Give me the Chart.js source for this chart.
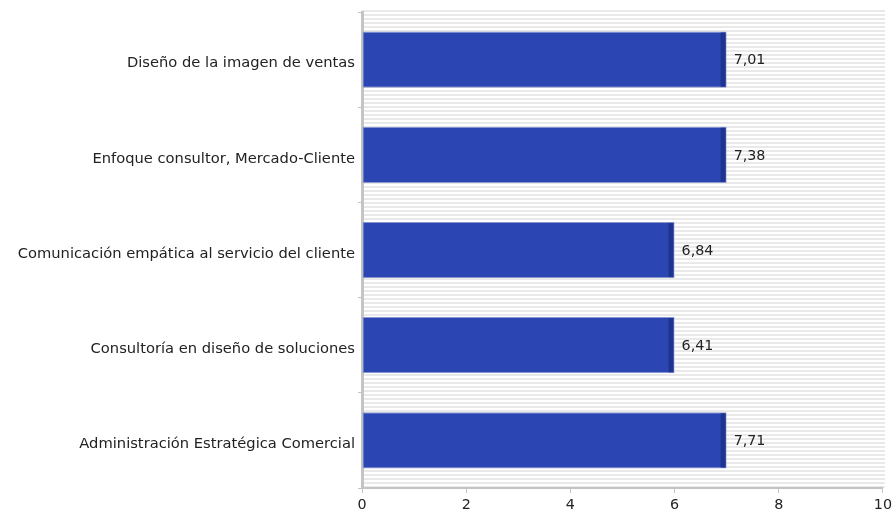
<!DOCTYPE html>
<html>
<head>
<meta charset="utf-8">
<script src="https://cdn.jsdelivr.net/npm/chart.js@4"></script>
<style>
html,body{margin:0;padding:0;background:#fff;}
#wrap{width:896px;height:513px;}
</style>
</head>
<body>
<div id="wrap"><canvas id="c" width="896" height="513"></canvas></div>
<script>
const categories = [
  "Diseño de la imagen de ventas",
  "Enfoque consultor, Mercado-Cliente",
  "Comunicación empática al servicio del cliente",
  "Consultoría en diseño de soluciones",
  "Administración Estratégica Comercial"
];
const barValues = [7, 7, 6, 6, 7];
const labelValues = ["7,01", "7,38", "6,84", "6,41", "7,71"];
const xTicks = [0, 2, 4, 6, 8, 10];

const FONT = "'DejaVu Sans', sans-serif";

const stripes = {
  id: 'stripes',
  beforeDraw(chart) {
    const {ctx, chartArea: a} = chart;
    ctx.save();
    ctx.fillStyle = '#ffffff';
    ctx.fillRect(a.left, a.top - 2, a.right - a.left + 2, a.bottom - a.top + 2);
    ctx.fillStyle = '#e9e9e9';
    for (let y = a.top - 2; y < a.bottom; y += 4) {
      ctx.fillRect(a.left, y, a.right - a.left + 2, 2);
    }
    ctx.restore();
  }
};

const barDeco = {
  id: 'barDeco',
  afterDatasetsDraw(chart) {
    const {ctx} = chart;
    const meta = chart.getDatasetMeta(0);
    ctx.save();
    meta.data.forEach((bar, i) => {
      const h = bar.height;
      ctx.fillStyle = '#1f3391';
      ctx.fillRect(bar.x - 6, bar.y - h / 2 + 1, 5, h - 2);
      ctx.fillStyle = '#222';
      ctx.font = '14.3px ' + FONT;
      ctx.textAlign = 'left';
      ctx.textBaseline = 'middle';
      ctx.fillText(labelValues[i], bar.x + 7, bar.y + 1);
    });
    ctx.restore();
  }
};

new Chart(document.getElementById('c'), {
  type: 'bar',
  data: {
    labels: categories,
    datasets: [{
      data: barValues,
      backgroundColor: '#2b45b3',
      borderColor: '#8a97cf',
      borderWidth: 1,
      borderSkipped: false,
      categoryPercentage: 1,
      barPercentage: 0.59
    }]
  },
  options: {
    indexAxis: 'y',
    responsive: false,
    animation: false,
    devicePixelRatio: 1,
    layout: {padding: {top: 12, right: 13, left: 0, bottom: 0}},
    plugins: {legend: {display: false}, tooltip: {enabled: false}},
    scales: {
      x: {
        min: 0, max: 10,
        afterBuildTicks(s) { s.ticks = xTicks.map(v => ({value: v})); },
        afterFit(s) { s.height = 25; },
        border: {display: true, color: '#c4c4c4', width: 2},
        grid: {drawOnChartArea: false, tickLength: 5, color: '#c4c4c4', lineWidth: 1},
        ticks: {color: '#222', font: {family: FONT, size: 14.3}, padding: 4, maxRotation: 0}
      },
      y: {
        afterFit(s) { s.width = 362; },
        border: {display: true, color: '#c4c4c4', width: 3},
        grid: {drawOnChartArea: false, tickLength: 4, color: '#c4c4c4', offset: true},
        ticks: {color: '#222', font: {family: FONT, size: 14.7}, padding: 3, labelOffset: 4}
      }
    }
  },
  plugins: [stripes, barDeco]
});
</script>
</body>
</html>
